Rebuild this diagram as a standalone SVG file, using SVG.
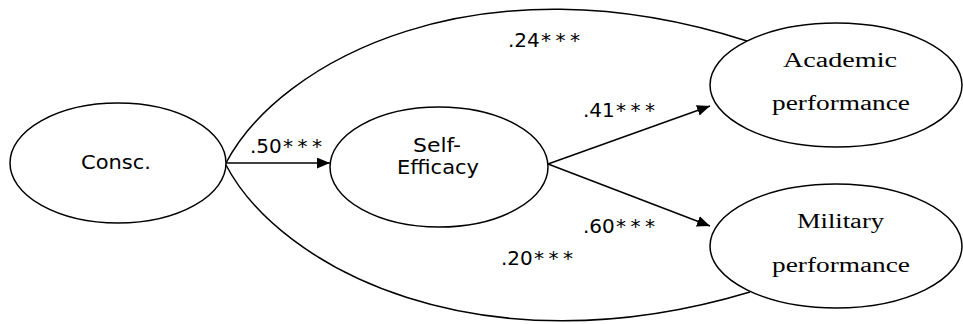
<svg xmlns="http://www.w3.org/2000/svg" width="963" height="324" viewBox="0 0 963 324">
<style>
.n{fill:#fff;stroke:#000;stroke-width:1.5}
.c{fill:none;stroke:#000;stroke-width:1.5}
.s{font-family:"DejaVu Sans","Liberation Sans",sans-serif;font-size:19px;fill:#000}
.l{font-family:"DejaVu Sans","Liberation Sans",sans-serif;font-size:20px;fill:#000}
.r{font-family:"Liberation Serif","Times New Roman",serif;font-size:20px;fill:#000}
.st{letter-spacing:4.5px}
</style>
<defs>
<marker id="ah" viewBox="0 0 12 10" refX="12" refY="5" markerWidth="13" markerHeight="11" markerUnits="userSpaceOnUse" orient="auto">
<path d="M0,0 L12,5 L0,10 Z" fill="#000"/>
</marker>
</defs>
<g id="connectors">
<path class="c" d="M226,163 C280,60 480,-45 747,41"/>
<path class="c" d="M226,165 C280,268 480,373 750,292"/>
<path class="c" d="M226,163 L330,163" marker-end="url(#ah)"/>
<path class="c" d="M548,164 L710,106" marker-end="url(#ah)"/>
<path class="c" d="M548,164 L710,226" marker-end="url(#ah)"/>
</g>
<g id="node-consc">
<ellipse class="n" cx="118" cy="163" rx="108" ry="60"/>
<text class="s" x="81" y="169" textLength="70" lengthAdjust="spacingAndGlyphs">Consc.</text>
</g>
<g id="node-selfefficacy">
<ellipse class="n" cx="439" cy="167" rx="109" ry="60"/>
<text class="s" x="413" y="152" textLength="48" lengthAdjust="spacingAndGlyphs">Self-</text>
<text class="s" x="397" y="174" textLength="82" lengthAdjust="spacingAndGlyphs">Efficacy</text>
</g>
<g id="node-academic">
<ellipse class="n" cx="836" cy="85" rx="126" ry="62"/>
<text class="r" x="783" y="67" textLength="114" lengthAdjust="spacingAndGlyphs">Academic</text>
<text class="r" x="772" y="110" textLength="138" lengthAdjust="spacingAndGlyphs">performance</text>
</g>
<g id="node-military">
<ellipse class="n" cx="836" cy="246" rx="126" ry="62"/>
<text class="r" x="797" y="228" textLength="87" lengthAdjust="spacingAndGlyphs">Military</text>
<text class="r" x="772" y="272" textLength="138" lengthAdjust="spacingAndGlyphs">performance</text>
</g>
<g id="labels">
<text class="l" x="250" y="153">.50<tspan class="st" x="283">***</tspan></text>
<text class="l" x="508" y="47">.24<tspan class="st" x="541">***</tspan></text>
<text class="l" x="583" y="117">.41<tspan class="st" x="616">***</tspan></text>
<text class="l" x="583" y="233">.60<tspan class="st" x="616">***</tspan></text>
<text class="l" x="501" y="265">.20<tspan class="st" x="534">***</tspan></text>
</g>
</svg>
